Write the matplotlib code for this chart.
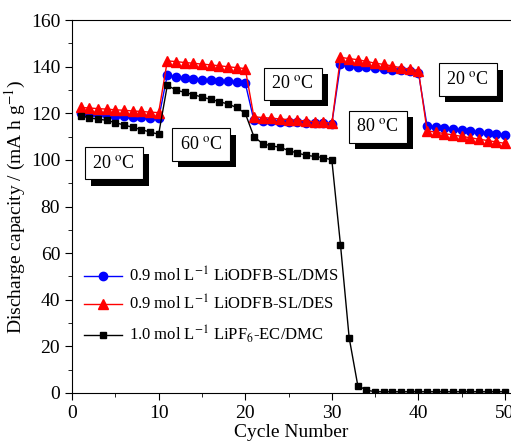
import numpy as np
import matplotlib.pyplot as plt
import matplotlib.patheffects as pe

plt.rcParams['font.family'] = ['Liberation Serif', 'DejaVu Serif']
plt.rcParams['mathtext.fontset'] = 'stix'

# data
cycles = np.arange(1, 51)

dms = [120, 119.8, 119.5, 119.3, 119, 118.8, 118.5, 118.3, 118, 117.8,
       136.5, 135.5, 135, 134.8, 134.5, 134.2, 134, 133.8, 133.5, 133,
       117, 116.8, 116.6, 116.4, 116.3, 116.1, 116, 115.8, 115.7, 115.5,
       141, 140.5, 140, 139.8, 139.5, 139, 138.8, 138.5, 138, 137.5,
       114.5, 114, 113.6, 113.2, 112.8, 112.4, 112, 111.6, 111.2, 110.8]

des = [122.5, 122.3, 122, 121.8, 121.5, 121.3, 121, 120.8, 120.5, 120.3,
       142.5, 142.2, 141.8, 141.5, 141.1, 140.8, 140.4, 140, 139.6, 139.2,
       118.5, 118.2, 117.9, 117.6, 117.3, 117, 116.7, 116.4, 116.1, 115.8,
       144, 143.5, 143, 142.3, 141.5, 141, 140.3, 139.5, 139, 138.3,
       112.5, 111.9, 111.3, 110.7, 110.1, 109.5, 108.9, 108.3, 107.7, 107.1]

lipf6 = [119, 118, 117.5, 117, 116, 115, 114, 113, 112, 111,
         132, 130, 129, 128, 127, 126, 125, 124, 122.5, 120,
         110, 107, 106, 105.5, 104, 103, 102, 101.5, 101, 100,
         63.5, 23.7, 3.1, 1.2, 0.5, 0.5, 0.5, 0.5, 0.5, 0.5,
         0.5, 0.5, 0.5, 0.5, 0.5, 0.5, 0.5, 0.5, 0.5, 0.5]

labels = ['0.9 mol L$^{-1}$ LiODFB-SL/DMS',
          '0.9 mol L$^{-1}$ LiODFB-SL/DES',
          '1.0 mol L$^{-1}$ LiPF$_6$-EC/DMC']

temp_text = ['20 $^{\\rm o}$C', '60 $^{\\rm o}$C', '20 $^{\\rm o}$C',
             '80 $^{\\rm o}$C', '20 $^{\\rm o}$C']
temp_x = [4.8, 14.9, 25.5, 35.3, 45.7]
temp_y = [98.5, 106.6, 132.6, 114.3, 134.5]

fig = plt.figure(figsize=(5.11, 4.47), dpi=100)
ax = fig.add_axes([0.141, 0.121, 0.859, 0.834])

ax.plot(cycles, dms, '-o', color='blue', ms=6, lw=1, label=labels[0])
ax.plot(cycles, des, '-^', color='red', ms=7, lw=1, label=labels[1])
ax.plot(cycles, lipf6, '-s', color='black', ms=5, lw=1, label=labels[2])

for t, x, y in zip(temp_text, temp_x, temp_y):
    txt = ax.text(x, y, t, ha='center', va='center', fontsize=13,
                  bbox=dict(boxstyle='square,pad=0.42', fc='white', ec='black', lw=0.8))
    txt.get_bbox_patch().set_path_effects(
        [pe.SimplePatchShadow(offset=(4.5, -4.5), shadow_rgbFace='black', alpha=1),
         pe.Normal()])

ax.set_xlim(0, 50.69)
ax.set_ylim(0, 160)
ax.set_xticks([0, 10, 20, 30, 40, 50])
ax.set_xticks(np.arange(5, 50, 10), minor=True)
ax.set_yticks(np.arange(0, 161, 20))
ax.set_yticks(np.arange(10, 160, 20), minor=True)
ax.tick_params(direction='out', length=5, labelsize=14)
ax.tick_params(which='minor', direction='out', length=3)
ax.spines['right'].set_visible(False)

ax.set_xlabel('Cycle Number', fontsize=14, labelpad=2)
ax.set_ylabel('Discharge capacity / (mA h g$^{-1}$)', fontsize=14, labelpad=2)

ax.legend(loc='upper left', bbox_to_anchor=(0.0, 0.37), frameon=False,
          fontsize=12, handlelength=2.3, labelspacing=0.55, borderaxespad=0.3,
          handletextpad=0.4)

fig.savefig('out.png', dpi=100)
